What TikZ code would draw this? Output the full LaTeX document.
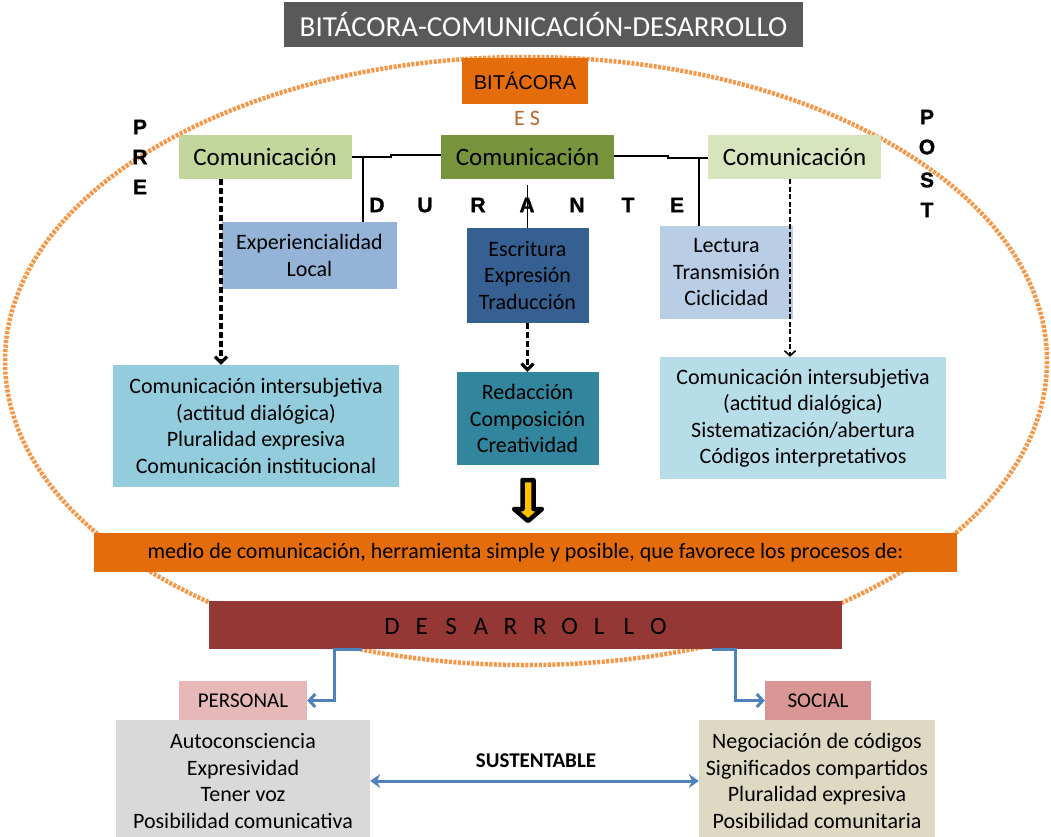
\documentclass[tikz,border=0pt]{standalone}
\usepackage{fontspec}
\setmainfont{Carlito}
\newfontfamily\arialfont{Liberation Sans}
\newfontfamily\letterfont{Liberation Sans}[UprightFont={* Bold}, FakeBold=1.2]
\usetikzlibrary{arrows.meta,calc}

% Box colours
\definecolor{titlegray}{HTML}{595959}
\definecolor{bitorange}{HTML}{E46C0A}
\definecolor{esbrown}{HTML}{B9652D}
\definecolor{greenlight}{HTML}{C3D69B}
\definecolor{greendark}{HTML}{77933C}
\definecolor{greenpale}{HTML}{D7E4BD}
\definecolor{bluemid}{HTML}{95B3D7}
\definecolor{bluedark}{HTML}{366092}
\definecolor{bluepale}{HTML}{B9CDE5}
\definecolor{aqualight}{HTML}{93CDDD}
\definecolor{aquadark}{HTML}{31859C}
\definecolor{aquapale}{HTML}{B7DEE8}
\definecolor{brickred}{HTML}{953735}
\definecolor{rosepale}{HTML}{E6B9B8}
\definecolor{rosemid}{HTML}{D99694}
\definecolor{greypale}{HTML}{D9D9D9}
\definecolor{sandpale}{HTML}{DDD9C3}
\definecolor{ringorange}{HTML}{F79646}
\definecolor{arrowblue}{HTML}{4F81BD}
\definecolor{arrowyellow}{HTML}{FFC000}

\tikzset{
  box/.style={inner sep=0pt, align=center, text=black, font=\fontsize{22}{26.5}\selectfont},
  comm/.style={box, minimum width=173pt, minimum height=44pt, font=\fontsize{25}{30}\selectfont},
  letter/.style={inner sep=0pt, font=\letterfont\fontsize{21}{21}\selectfont},
  link/.style={line width=1.6pt},
  ring/.style={draw=ringorange, line width=4.5pt, dash pattern=on 3pt off 1.5pt},
  dasharrow/.style={line width=3.2pt, dash pattern=on 6pt off 3pt, -{Straight Barb[length=6pt,width=12pt]}},
  thindash/.style={line width=1.6pt, dash pattern=on 5pt off 2.5pt, -{Straight Barb[length=5pt,width=11pt]}},
  bluearrow/.style={draw=arrowblue, line width=3pt, -{Straight Barb[length=6pt,width=13pt]}},
}

\begin{document}
\begin{tikzpicture}[x=1pt,y=-1pt]
    \useasboundingbox (0,0) rectangle (1051,836);

    % The dotted ring behind everything
    \draw[ring] (526,361) ellipse [x radius=521, y radius=304];

    % Title and the BITACORA box
    \node[box, fill=titlegray, text=white, minimum width=519pt, minimum height=45pt,
          font=\fontsize{29}{34}\selectfont] (title) at (543.5,24.5) {BITÁCORA-COMUNICACIÓN-DESARROLLO};
    \node[box, fill=bitorange, minimum width=126pt, minimum height=46pt,
          font=\arialfont\fontsize{20}{22}\selectfont] (bitacora) at (525,81) {BITÁCORA};
    \node[box, text=esbrown] (es) at (527,118) {E\hspace{5pt}S};

    % The three Comunicacion boxes
    \node[comm, fill=greenlight] (comPre) at (265,157) {Comunicación};
    \node[comm, fill=greendark] (comDur) at (527.5,157) {Comunicación};
    \node[comm, fill=greenpale] (comPost) at (794.5,157) {Comunicación};

    % PRE, DURANTE and POST letters
    \foreach \y/\l [count=\i] in {127/P,157/R,187/E}
        \node[letter] (pre\i) at (140,\y) {\l};
    \foreach \y/\l [count=\i] in {117/P,147/O,180/S,210/T}
        \node[letter] (post\i) at (927,\y) {\l};
    \foreach \x/\l [count=\i] in {377/D,425/U,478/R,527/A,577/N,628/T,677/E}
        \node[letter] (dur\i) at (\x,205) {\l};

    % Middle row
    \node[box, fill=bluemid, minimum width=175pt, minimum height=67pt] (expLocal) at (309.5,255.5)
        {Experiencialidad\\Local};
    \node[box, fill=bluedark, minimum width=122pt, minimum height=95pt] (escritura) at (527.5,275.5)
        {Escritura\\Expresión\\Traducción};
    \node[box, fill=bluepale, minimum width=133pt, minimum height=93pt] (lectura) at (726.5,272.5)
        {Lectura\\Transmisión\\Ciclicidad};

    % Lower row
    \node[box, fill=aqualight, minimum width=286pt, minimum height=122pt] (preOut) at (256,426)
        {Comunicación intersubjetiva\\(actitud dialógica)\\Pluralidad expresiva\\Comunicación institucional};
    \node[box, fill=aquadark, minimum width=142pt, minimum height=93pt] (redaccion) at (527.5,418.5)
        {Redacción\\Composición\\Creatividad};
    \node[box, fill=aquapale, minimum width=286pt, minimum height=122pt] (postOut) at (803,418)
        {Comunicación intersubjetiva\\(actitud dialógica)\\Sistematización/abertura\\Códigos interpretativos};

    % Solid links between the Comunicacion boxes
    \draw[link] (comPre.east) -- ++(39,0) |- ($(comDur.west)+(0,-2)$);
    \draw[link] ($(comDur.east)+(0,-1)$) -- ++(54,0) |- ($(comPost.west)+(0,1)$);
    \coordinate (jPre) at (363,157);
    \coordinate (jPost) at (699,158);
    \draw[link] (jPre) -- (jPre |- expLocal.north);
    \draw[link] (jPost) -- (jPost |- lectura.north);
    \draw[link] ($(comDur.south)+(0,6)$) -- (escritura.north);

    % Dashed arrows down to the lower row
    \draw[dasharrow] ([xshift=-44pt]comPre.south) -- ([xshift=-35pt]preOut.north);
    \draw[dasharrow] (escritura.south) -- (redaccion.north);
    \draw[thindash] ([xshift=-4.5pt]comPost.south) -- ([xshift=-13pt]postOut.north);

    % Yellow block arrow
    \draw[line width=4.5pt, fill=arrowyellow, line join=round]
        (522.5,480) -- (533.5,480) -- (533.5,509) -- (542,509) -- (528,521)
        -- (514,509) -- (522.5,509) -- cycle;

    % Banner and DESARROLLO
    \node[box, fill=bitorange, minimum width=863pt, minimum height=39pt] (medio) at (525.5,552.5)
        {medio de comunicación, herramienta simple y posible, que favorece los procesos de:};
    \node[box, fill=brickred, minimum width=633pt, minimum height=48pt] (desarrollo) at (525.5,625) {};
    \foreach \l [count=\i from 0] in {D,E,S,A,R,R,O,L,L,O}
        \node[box, font=\fontsize{25}{25}\selectfont] (des\i) at (392+29.6*\i,626) {\l};

    % PERSONAL and SOCIAL
    \node[box, fill=rosepale, minimum width=128pt, minimum height=39pt,
          font=\fontsize{21}{24}\selectfont] (personal) at (243,700.5) {PERSONAL};
    \node[box, fill=rosemid, minimum width=106pt, minimum height=39pt,
          font=\fontsize{21}{24}\selectfont] (social) at (818,700.5) {SOCIAL};
    \node[box, fill=greypale, minimum width=254pt, minimum height=122pt] (personalList) at (243,781)
        {Autoconsciencia\\Expresividad\\Tener voz\\Posibilidad comunicativa};
    \node[box, fill=sandpale, minimum width=236pt, minimum height=122pt] (socialList) at (817,781)
        {Negociación de códigos\\Significados compartidos\\Pluralidad expresiva\\Posibilidad comunitaria};

    % Blue arrows
    \draw[bluearrow] ([xshift=153pt]desarrollo.south west) -- ++(-27,0) |- (personal.east);
    \draw[bluearrow] ([xshift=-130pt]desarrollo.south east) -- ++(23,0) |- (social.west);
    \draw[draw=arrowblue, line width=3pt, {Stealth[length=10pt,width=14pt]}-{Stealth[length=10pt,width=14pt]}]
        (personalList.east) -- (socialList.west);
    \node[box, font=\bfseries\fontsize{21}{24}\selectfont] (sust) at (536,761) {SUSTENTABLE};
\end{tikzpicture}
\end{document}
